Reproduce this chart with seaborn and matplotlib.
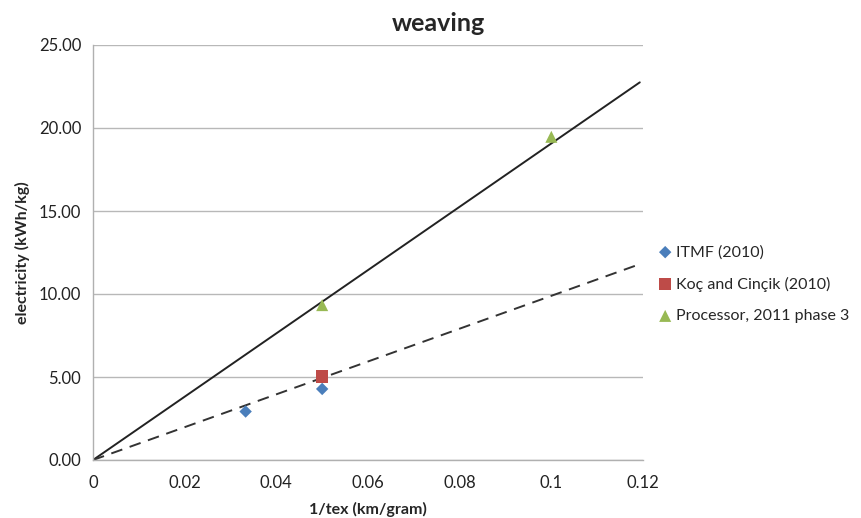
import matplotlib
matplotlib.use("Agg")
import matplotlib.pyplot as plt
import seaborn as sns
import pandas as pd

series = ["ITMF (2010)", "ITMF (2010)", "Koç and Cinçik (2010)",
          "Processor, 2011 phase 3", "Processor, 2011 phase 3"]
tex_inv = [0.0333, 0.05, 0.05, 0.05, 0.1]
electricity = [2.92, 4.28, 5.03, 9.33, 19.47]

solid_x = [0.0, 0.1193]
solid_y = [0.0, 22.75]
dashed_x = [0.0, 0.1183]
dashed_y = [0.0, 11.7]

colors = {"ITMF (2010)": "#4a7ebb", "Koç and Cinçik (2010)": "#be4b48",
          "Processor, 2011 phase 3": "#98b954"}
markers = {"ITMF (2010)": "D", "Koç and Cinçik (2010)": "s",
           "Processor, 2011 phase 3": "^"}
sizes = {"ITMF (2010)": 40, "Koç and Cinçik (2010)": 75,
         "Processor, 2011 phase 3": 75}

sns.set_style("white")
plt.rcParams['font.family'] = ['Lato', 'DejaVu Sans']

df = pd.DataFrame({"x": tex_inv, "y": electricity, "series": series})

fig = plt.figure(figsize=(8.62, 5.18), dpi=100)
ax = fig.add_axes([93/862, 1-460/518, 550/862, 415/518])

ax.set_xlim(0, 0.12)
ax.set_ylim(0, 25)
ax.set_yticks([0, 5, 10, 15, 20, 25])
ax.set_xticks([0, 0.02, 0.04, 0.06, 0.08, 0.1, 0.12])
ax.set_xticklabels(["0", "0.02", "0.04", "0.06", "0.08", "0.1", "0.12"])
ax.set_yticklabels([f"{v:.2f}" for v in [0, 5, 10, 15, 20, 25]])
ax.yaxis.grid(True, color="#b8b8b8", linewidth=1)
ax.xaxis.grid(False)
ax.set_axisbelow(True)

sns.lineplot(x=solid_x, y=solid_y, ax=ax, color="#222222", linewidth=1.4)
sns.lineplot(x=dashed_x, y=dashed_y, ax=ax, color="#333333", linewidth=1.4,
             linestyle=(0, (6, 4)))

for name in colors:
    sub = df[df["series"] == name]
    sns.scatterplot(data=sub, x="x", y="y", ax=ax, color=colors[name],
                    marker=markers[name], s=sizes[name], edgecolor="none",
                    label=name, zorder=5)

for s in ["top", "right"]:
    ax.spines[s].set_visible(False)
for s in ["left", "bottom"]:
    ax.spines[s].set_color("#b0b0b0")
    ax.spines[s].set_linewidth(1)
ax.tick_params(axis="both", which="both", direction="out", length=5,
               color="#b0b0b0", labelsize=12, labelcolor="#222222")
ax.tick_params(axis="x", pad=6)

ax.set_xlabel("1/tex (km/gram)", fontsize=11.5, fontweight="bold", labelpad=8)
ax.set_ylabel("electricity (kWh/kg)", fontsize=11.5, fontweight="bold", labelpad=6)
ax.set_title("weaving", fontsize=18, fontweight="bold", pad=10,
             x=(438 - 93) / 550)

leg = ax.legend(loc="upper left", frameon=False, fontsize=11.5,
                handletextpad=0.2, handlelength=0.9, borderpad=0,
                borderaxespad=0, labelspacing=1.08)
leg.set_bbox_to_anchor(((658 - 93) / 550, (460 - 245) / 415), transform=ax.transAxes)

fig.savefig("out.png", dpi=100)
